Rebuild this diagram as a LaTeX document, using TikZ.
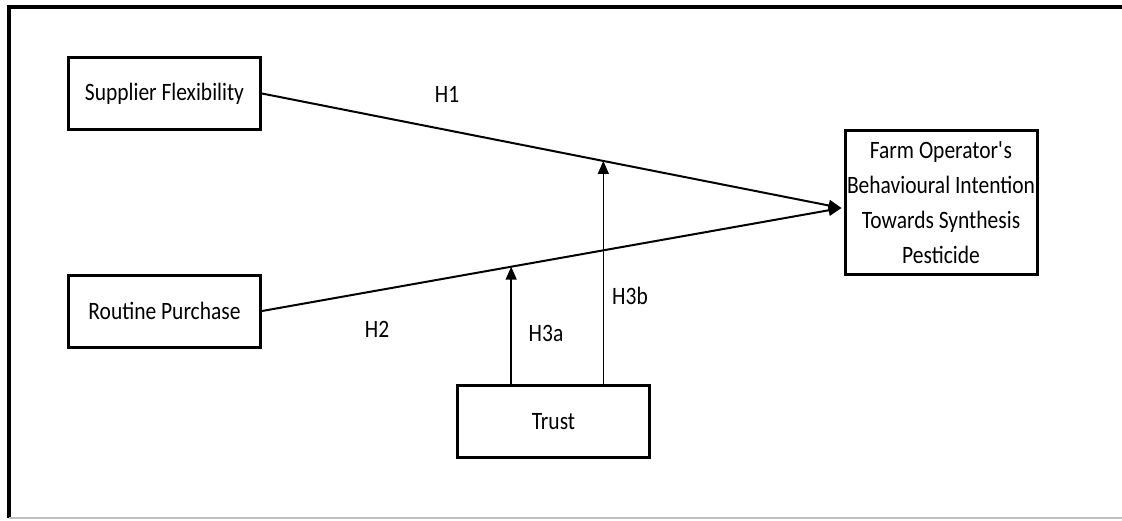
\documentclass[tikz,border=0pt]{standalone}
\usepackage{fontspec}
\setmainfont{Carlito}[FakeStretch=0.86]
\usetikzlibrary{arrows.meta}
\usetikzlibrary{calc}
\begin{document}
\begin{tikzpicture}[x=1pt,y=-1pt,
	construct/.style={shape=rectangle,draw,line width=3pt,minimum width=192pt,minimum height=72pt,inner sep=0pt,align=center,font=\fontsize{25}{35}\selectfont},
	path/.style={line width=2pt,-{Triangle[length=13pt,width=11pt]}},
	hyp/.style={font=\fontsize{25}{30}\selectfont}]
	\useasboundingbox (0,0) rectangle (1122,520);
	% frame
	\draw[line width=4pt] (9,518) -- (9,7) -- (1122,7);
	\draw[gray!50,line width=1.5pt] (9,518) -- (1122,518);
	% constructs
	\draw (164.5,93.5) node (sf) [construct] {Supplier Flexibility};
	\draw (164.5,311) node (rp) [construct] {Routine Purchase};
	\draw (941,202.5) node (bi) [construct,minimum height=144pt] {Farm Operator\textquotesingle s\\Behavioural Intention\\Towards Synthesis\\Pesticide};
	\draw (553.5,421.5) node (tr) [construct] {Trust};
	\coordinate (meet) at (841.5,208);
	% direct paths
	\draw[path] (sf.east) -- (meet);
	\draw[path] (rp.east) -- (meet);
	% moderation
	\coordinate (mb) at ($(sf.east)!0.589!(meet)$);
	\coordinate (ma) at ($(rp.east)!0.43!(meet)$);
	\draw[path,line width=1.5pt] (tr.north -| ma) -- (ma);
	\draw[path,line width=1.5pt] (tr.north -| mb) -- (mb);
	% labels
	\draw (447,94) node (h1) [hyp] {H1};
	\draw (377,329) node (h2) [hyp] {H2};
	\draw (546,333) node (h3a) [hyp] {H3a};
	\draw (630,296) node (h3b) [hyp] {H3b};
\end{tikzpicture}
\end{document}
